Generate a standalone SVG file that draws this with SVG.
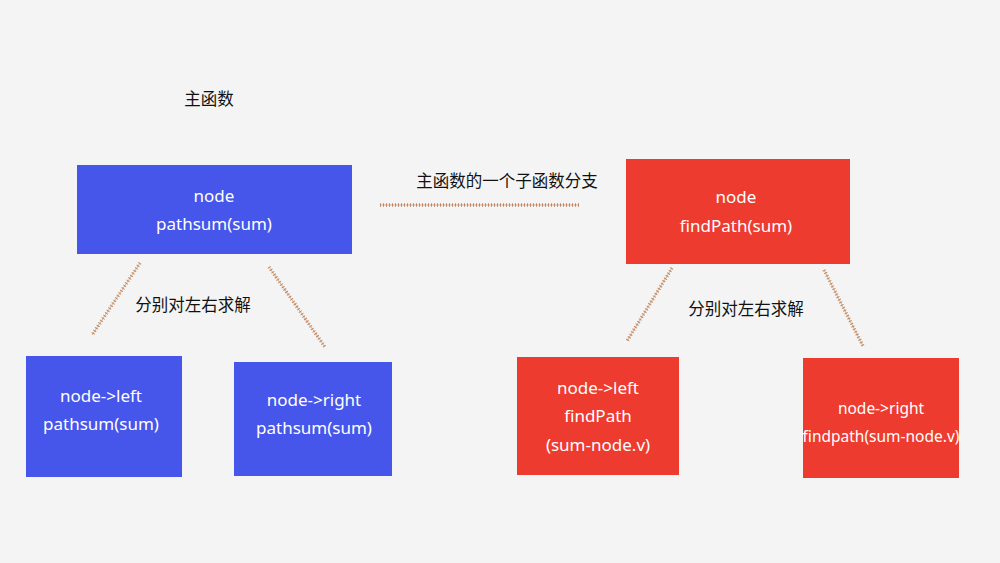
<svg xmlns="http://www.w3.org/2000/svg" width="1000" height="563" viewBox="0 0 1000 563">
<style>
.bg{fill:#f4f4f4}
.blue{fill:#4756ea}
.red{fill:#ee3b2f}
.t{font-family:"Noto Sans","Noto Sans CJK SC",sans-serif;fill:#fff;font-size:17px;text-anchor:middle}
.lbl{font-family:"Noto Sans CJK SC","Noto Sans",sans-serif;fill:#111;font-size:16.5px;text-anchor:middle}
.c1{stroke:#dbb295;stroke-width:1;fill:none}
.c2{stroke:#c08760;stroke-width:3.5;stroke-dasharray:1 2;fill:none}
</style>
<rect class="bg" width="1000" height="563"/>
<text class="lbl" x="209" y="105">主函数</text>
<text class="lbl" x="507" y="187">主函数的一个子函数分支</text>
<text class="lbl" x="193" y="311">分别对左右求解</text>
<text class="lbl" x="746" y="315">分别对左右求解</text>
<g id="connectors">
<path class="c1" d="M380 205 L579 205"/><path class="c2" d="M380 205 L579 205"/>
<path class="c1" d="M140 263 L92 335"/><path class="c2" d="M140 263 L92 335"/>
<path class="c1" d="M269 267 L325 347"/><path class="c2" d="M269 267 L325 347"/>
<path class="c1" d="M672 268 L627 341"/><path class="c2" d="M672 268 L627 341"/>
<path class="c1" d="M824 270 L863 346"/><path class="c2" d="M824 270 L863 346"/>
</g>
<g id="blue-root"><rect class="blue" x="77" y="165" width="275" height="89"/>
<text class="t" x="214" y="202">node</text><text class="t" x="214" y="230">pathsum(sum)</text></g>
<g id="blue-left"><rect class="blue" x="26" y="356" width="156" height="121"/>
<text class="t" x="101" y="402">node-&gt;left</text><text class="t" x="101" y="430">pathsum(sum)</text></g>
<g id="blue-right"><rect class="blue" x="234" y="362" width="158" height="114"/>
<text class="t" x="314" y="406">node-&gt;right</text><text class="t" x="314" y="434">pathsum(sum)</text></g>
<g id="red-root"><rect class="red" x="626" y="159" width="224" height="105"/>
<text class="t" x="736" y="203">node</text><text class="t" x="736" y="232">findPath(sum)</text></g>
<g id="red-left"><rect class="red" x="517" y="357" width="162" height="118"/>
<text class="t" x="598" y="394">node-&gt;left</text><text class="t" x="598" y="422">findPath</text><text class="t" x="598" y="451">(sum-node.v)</text></g>
<g id="red-right"><rect class="red" x="803" y="358" width="156" height="120"/>
<text class="t" x="881" y="414" style="font-size:15.5px">node-&gt;right</text><text class="t" x="881" y="442" style="font-size:15.5px">findpath(sum-node.v)</text></g>
</svg>
